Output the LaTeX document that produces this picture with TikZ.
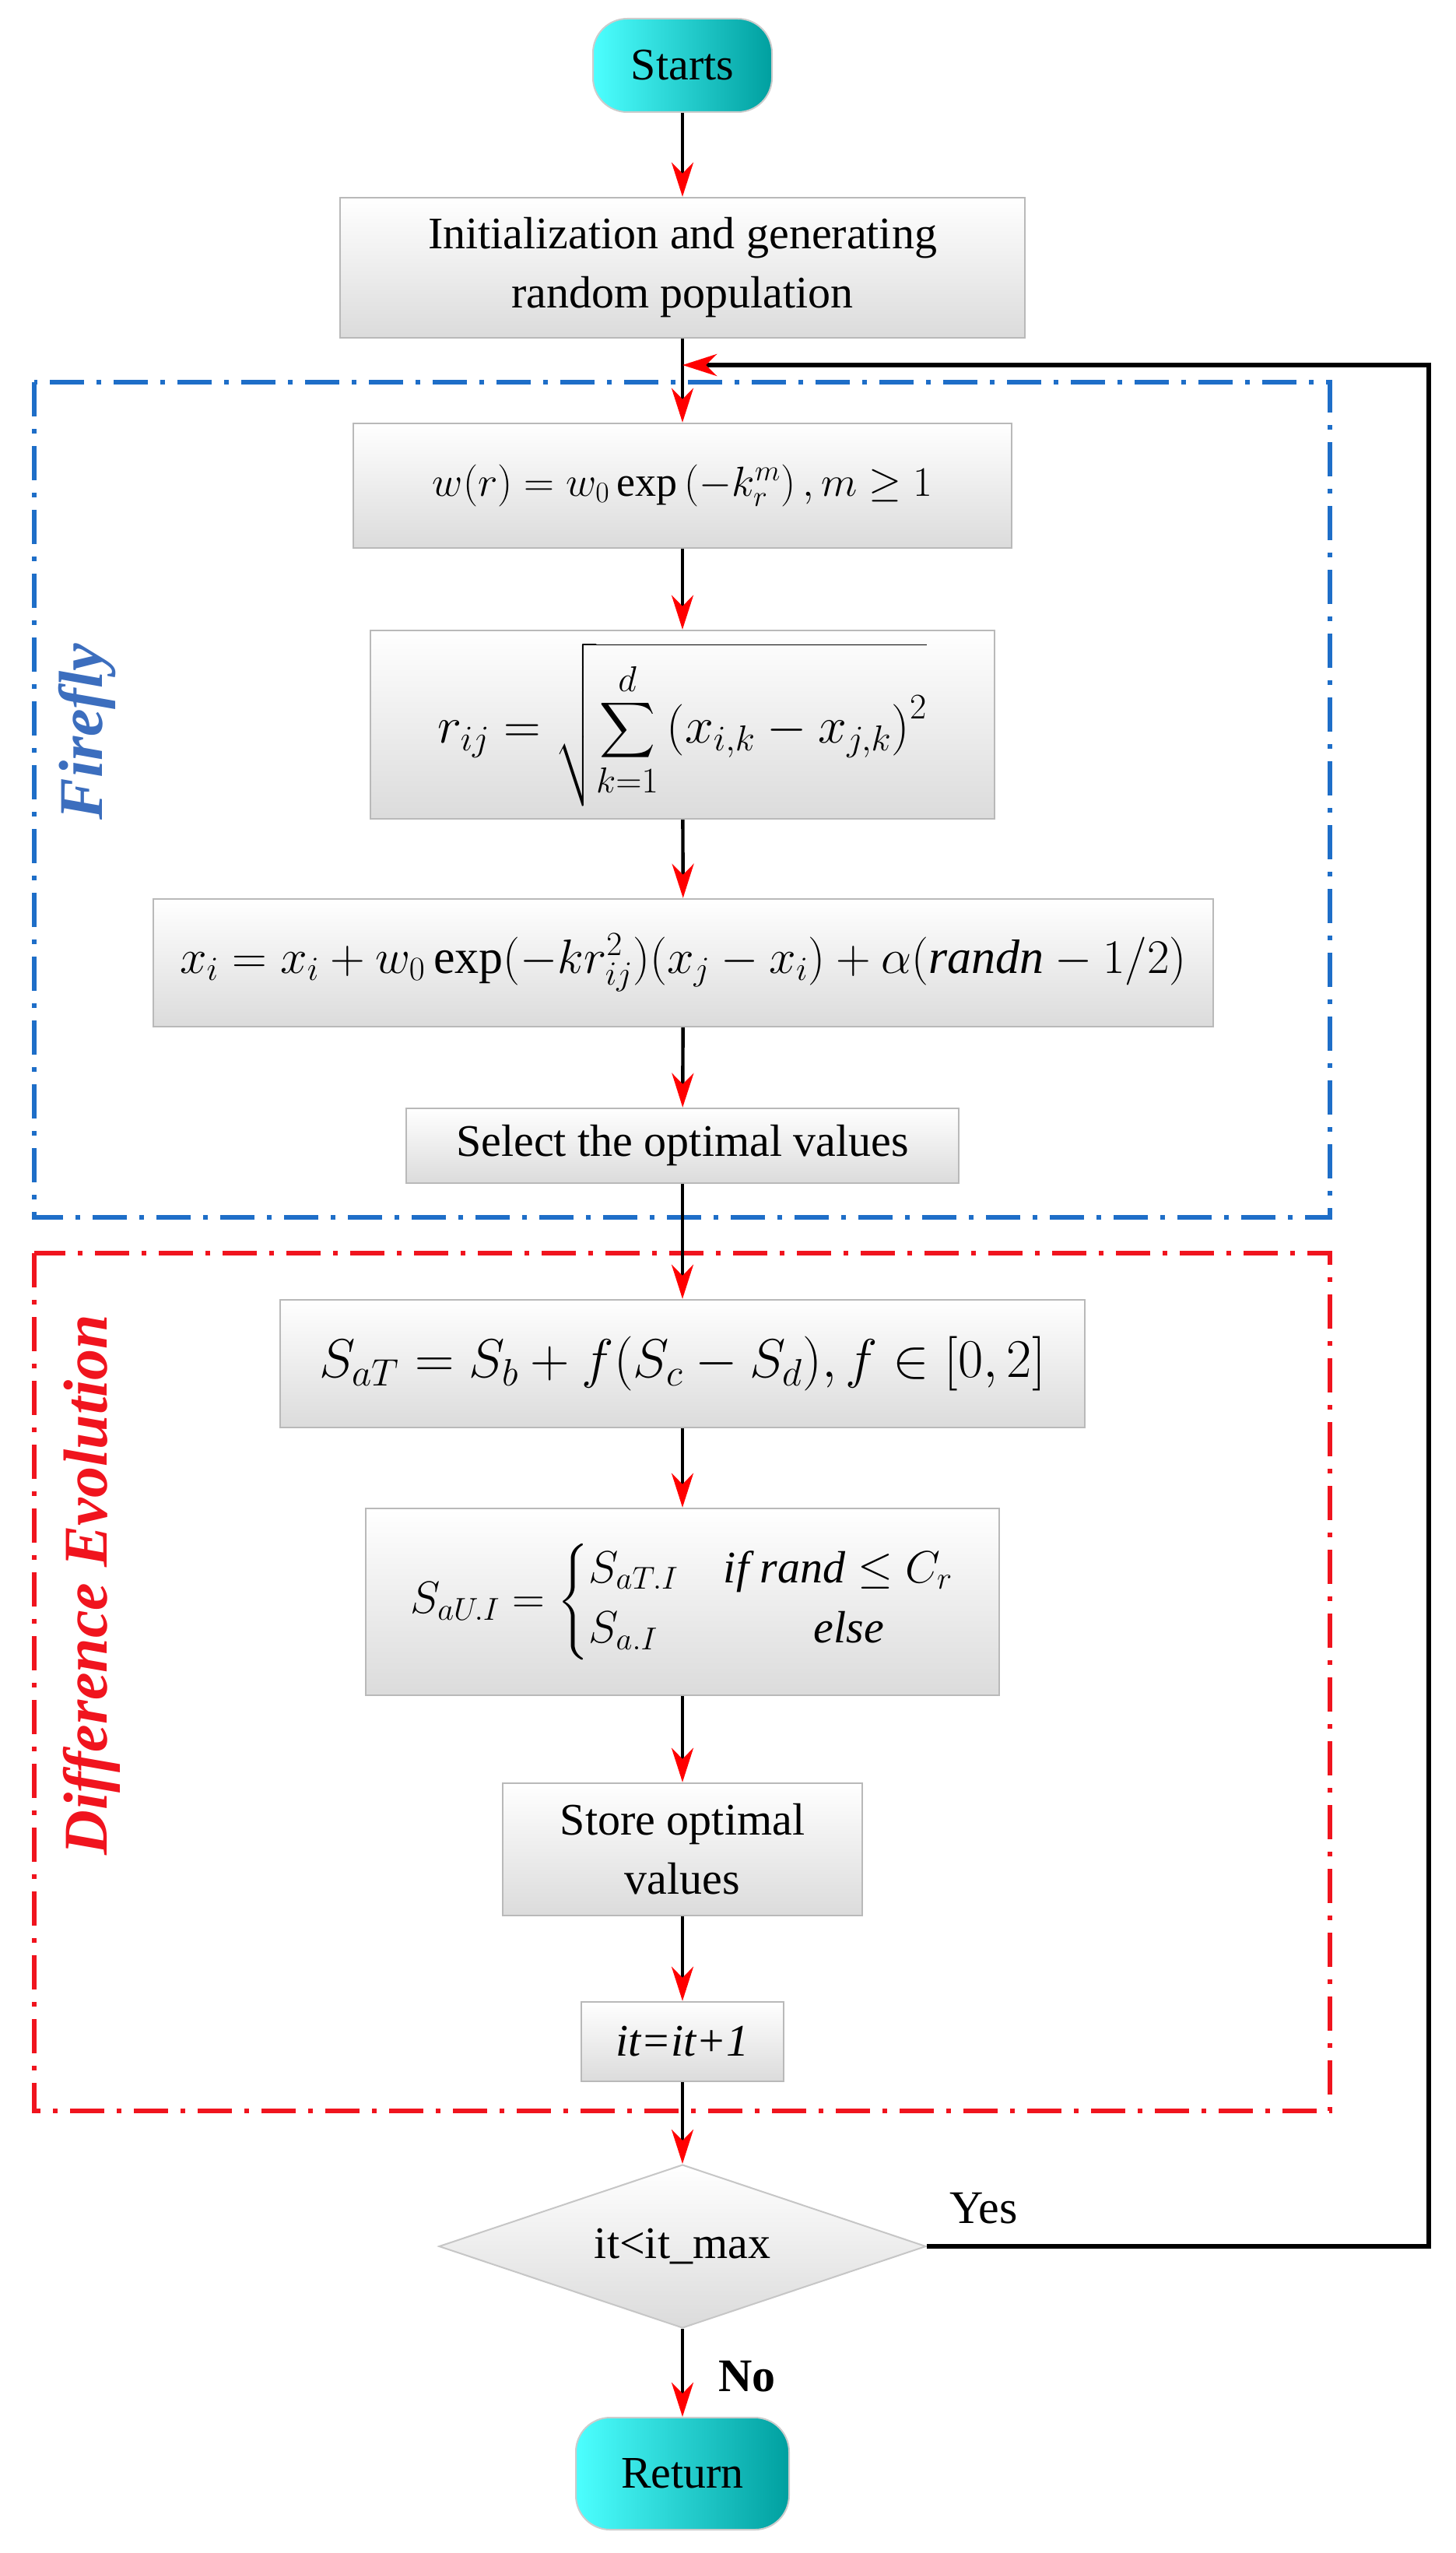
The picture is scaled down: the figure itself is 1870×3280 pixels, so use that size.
\RequirePackage{fix-cm}
\documentclass[tikz,border=0pt]{standalone}
\usepackage{amsmath}
\usepackage{fontspec}
\setmainfont{Liberation Serif}
\usetikzlibrary{shapes.geometric,arrows.meta}
\definecolor{fblue}{RGB}{30,110,200}
\definecolor{fred}{RGB}{240,20,30}
\definecolor{tblue}{RGB}{60,110,190}
\begin{document}
\begin{tikzpicture}[x=0.5pt,y=-0.5pt,
  box/.style={draw=gray!55,line width=1.2pt,top color=white,bottom color=gray!28,align=center,inner sep=2pt,font=\fontsize{29}{38}\selectfont},
  fs/.style={font=\fontsize{#1}{#1}\selectfont},
  term/.style={draw=gray!40,line width=1pt,left color=cyan!70!white,right color=teal!75!cyan,rounded corners=22pt,font=\fontsize{29}{36}\selectfont},
  arr/.style={line width=2.2pt,black,-{Stealth[red,length=22pt,width=14pt,inset=7pt]}},
  frame/.style={line width=3pt,dash pattern=on 22pt off 8pt on 3pt off 8pt},
  lab/.style={font=\fontsize{40}{46}\selectfont\bfseries\itshape}]
\useasboundingbox (0,0) rectangle (1870,3280);
\draw[frame,fblue] (44,491) rectangle (1709,1564);
\draw[frame,fred] (44,1610) rectangle (1709,2712);
\node[term,minimum width=115pt,minimum height=60pt] (start) at (877,84) {Starts};
\node[box,minimum width=440pt,minimum height=90pt] (init) at (877,344) {Initialization and generating\\random population};
\node[box,fs=27,minimum width=423pt,minimum height=80pt] (w) at (877,624) {$w(r)=w_0\exp\left(-k_r^m\right),m\ge 1$};
\node[box,fs=33,minimum width=401pt,minimum height=121pt] (r) at (877,931) {$\displaystyle r_{ij}=\sqrt{\sum_{k=1}^{d}\left(x_{i,k}-x_{j,k}\right)^2}$};
\node[box,fs=31,minimum width=681pt,minimum height=82pt] (x) at (878,1237) {$x_i=x_i+w_0\exp(-kr_{ij}^2)(x_j-x_i)+\alpha(\mathit{randn}-1/2)$};
\node[box,minimum width=355pt,minimum height=48pt] (sel) at (877,1472) {Select the optimal values};
\node[box,fs=35,minimum width=517pt,minimum height=82pt] (sat) at (877,1752) {$S_{aT}=S_b+f(S_c-S_d),f\in\left[0,2\right]$};
\node[box,fs=29,minimum width=407pt,minimum height=120pt] (sau) at (877,2058) {$S_{aU.I}=\begin{cases}S_{aT.I} & \mathit{if}\ \mathit{rand}\le C_r\\[4pt] S_{a.I} & \qquad \mathit{else}\end{cases}$};
\node[box,minimum width=231pt,minimum height=85pt] (store) at (877,2376) {Store optimal\\values};
\node[box,minimum width=130pt,minimum height=51pt] (it) at (877,2623) {\itshape it=it+1};
\node[diamond,draw=gray!45,line width=1pt,top color=white,bottom color=gray!28,aspect=3,minimum width=313pt,minimum height=105pt,inner sep=0pt,font=\fontsize{29}{36}\selectfont] (dec) at (877,2886) {it<it\_max};
\node[term,minimum width=137pt,minimum height=72pt] (ret) at (877,3178) {Return};
\coordinate (c1) at (1836,2886);
\coordinate (c2) at (1836,469);
\coordinate (c3) at (877,469);
\draw[arr] (start) -- (init);
\draw[arr] (init) -- (w);
\draw[arr] (w) -- (r);
\draw[arr] (r) -- (x);
\draw[arr] (x) -- (sel);
\draw[arr] (sel) -- (sat);
\draw[arr] (sat) -- (sau);
\draw[arr] (sau) -- (store);
\draw[arr] (store) -- (it);
\draw[arr] (it) -- (dec);
\draw[arr] (dec) -- (ret);
\draw[arr,line width=3pt] (dec.east) -- (c1) -- (c2) -- (c3);
\node[font=\fontsize{30}{36}\selectfont] (yes) at (1264,2837) {Yes};
\node[font=\fontsize{30}{36}\selectfont\bfseries] (no) at (960,3053) {No};
\node[lab,tblue,rotate=90] (ff) at (112,940) {Firefly};
\node[lab,fred,rotate=90] (de) at (118,2036) {Difference Evolution};
\end{tikzpicture}
\end{document}
